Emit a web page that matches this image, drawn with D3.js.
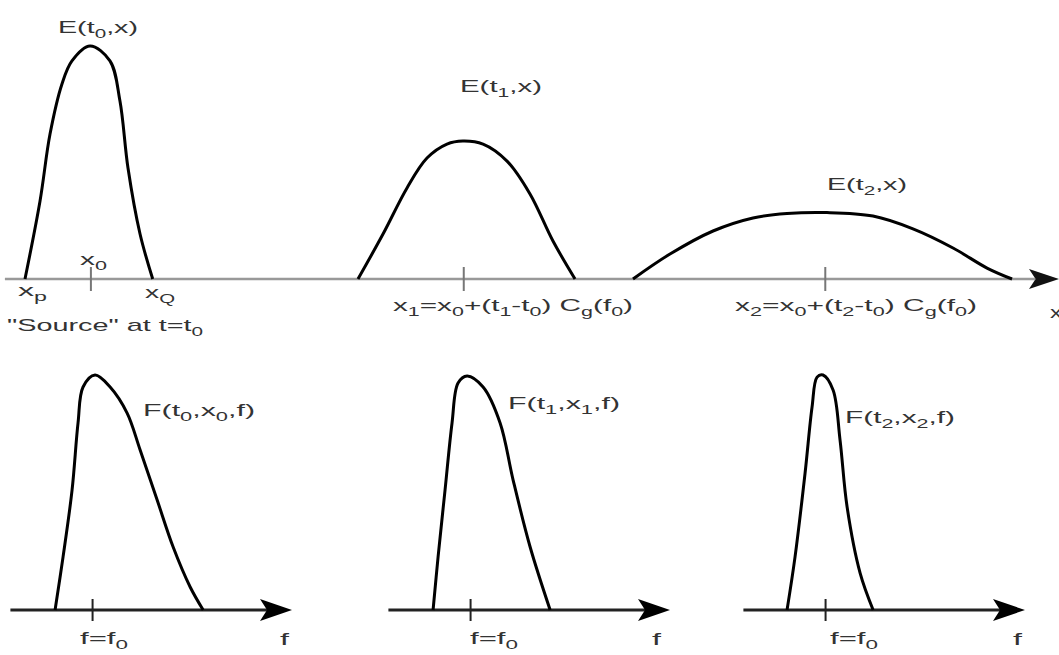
<!DOCTYPE html>
<html>
<head>
<meta charset="utf-8">
<script src="https://cdn.jsdelivr.net/npm/d3@7"></script>
<style>
  html, body { margin: 0; padding: 0; background: #fff; }
  svg { display: block; }
  text { font-family: "Liberation Sans", Arial, sans-serif; fill: #333; }
</style>
</head>
<body>
<svg id="chart" width="1059" height="655"></svg>
<script>
// ---------- DATA ----------
// Top row: spatial pulses E(t, x); x in arbitrary units, amplitude normalised
const pulseE0 = [[0.165,0],[0.311,0.335],[0.408,0.622],[0.524,0.837],[0.621,0.936],[0.796,1.0],[0.990,0.936],[1.087,0.764],[1.165,0.476],[1.282,0.193],[1.405,0]];
const pulseE1 = [[3.398,0],[3.641,0.193],[3.874,0.391],[4.068,0.519],[4.262,0.579],[4.417,0.592],[4.612,0.579],[4.845,0.506],[5.068,0.365],[5.291,0.163],[5.505,0]];
const pulseE2 = [[6.068,0],[6.427,0.107],[6.845,0.206],[7.233,0.262],[7.563,0.281],[7.951,0.285],[8.398,0.270],[8.786,0.215],[9.175,0.133],[9.505,0.047],[9.748,0]];
const topTicks = [0.80, 4.42, 7.93];

// Bottom row: spectra F(t, x, f); f in units of f0
const spectrumF0 = [[0.565,0],[0.659,0.226],[0.765,0.511],[0.835,0.796],[0.894,0.949],[1.035,1.0],[1.212,0.949],[1.412,0.838],[1.565,0.681],[1.765,0.468],[1.953,0.268],[2.153,0.098],[2.306,0]];
const spectrumF1 = [[0.565,0],[0.624,0.226],[0.706,0.511],[0.788,0.796],[0.859,0.966],[0.965,0.996],[1.153,0.949],[1.353,0.796],[1.506,0.553],[1.706,0.268],[1.941,0]];
const spectrumF2 = [[0.553,0],[0.647,0.226],[0.765,0.583],[0.847,0.864],[0.906,0.991],[0.976,1.0],[1.094,0.936],[1.176,0.723],[1.259,0.438],[1.412,0.157],[1.565,0]];
const bottomTick = 1.0;

// Labels ("_" marks a one-character subscript)
const topLabels = ["E(t_0,x)", "x_0", "x_p", "x_Q", "\"Source\" at t=t_0", "E(t_1,x)", "x_1=x_0+(t_1-t_0) C_g(f_0)", "E(t_2,x)", "x_2=x_0+(t_2-t_0) C_g(f_0)", "x"];
const bottomLabels = ["F(t_0,x_0,f)", "F(t_1,x_1,f)", "F(t_2,x_2,f)"];
const freqTickLabel = "f=f_0";
const freqAxisLabel = "f";

// ---------- LAYOUT ----------
const svg = d3.select("#chart");

const xTop = d3.scaleLinear().domain([0, 10]).range([8, 1038]);
const yTop = d3.scaleLinear().domain([0, 1]).range([279, 46]);

const panelLefts = [7, 385, 740];
const yBot = d3.scaleLinear().domain([0, 1]).range([610, 375]);
const fScales = panelLefts.map(l => d3.scaleLinear().domain([0, 3.35]).range([l, l + 285]));

// arrowhead helper (dart shape) pointing right, tip at (tx, ty)
function arrowHead(tx, ty, len, half, fill) {
  const p = d3.path();
  p.moveTo(tx, ty);
  p.lineTo(tx - len, ty - half);
  p.lineTo(tx - len * 0.78, ty);
  p.lineTo(tx - len, ty + half);
  p.closePath();
  svg.append("path").attr("d", p.toString()).attr("fill", fill);
}

// text with subscripts
function label(str, x, y, width, size) {
  size = size || 17;
  const t = svg.append("text").attr("x", x).attr("y", y).attr("font-size", size);
  const parts = [];
  let i = 0, buf = "";
  while (i < str.length) {
    if (str[i] === "_" && i + 1 < str.length) {
      if (buf) { parts.push({ s: buf, sub: false }); buf = ""; }
      parts.push({ s: str[i + 1], sub: true });
      i += 2;
    } else { buf += str[i]; i++; }
  }
  if (buf) parts.push({ s: buf, sub: false });
  let level = 0;
  parts.forEach(p => {
    const target = p.sub ? 5 : 0;
    const ts = t.append("tspan").attr("font-size", p.sub ? size * 0.72 : size).text(p.s);
    if (target !== level) { ts.attr("dy", target - level); level = target; }
  });
  if (width) t.attr("textLength", width).attr("lengthAdjust", "spacingAndGlyphs");
  return t;
}

// ---------- TOP ROW ----------
svg.append("line")
  .attr("x1", xTop(-0.03)).attr("x2", 1035)
  .attr("y1", yTop(0)).attr("y2", yTop(0))
  .attr("stroke", "#999").attr("stroke-width", 2.5);
arrowHead(1059, yTop(0), 30, 10, "#111");

const tickAxis = d3.axisBottom(xTop).tickValues(topTicks).tickFormat("").tickSizeInner(24).tickSizeOuter(0);
const gT = svg.append("g").attr("transform", `translate(0,${yTop(0) - 12})`).call(tickAxis);
gT.select(".domain").remove();
gT.selectAll(".tick line").attr("stroke", "#777").attr("stroke-width", 2);

const lineTop = d3.line().x(d => xTop(d[0])).y(d => yTop(d[1])).curve(d3.curveCatmullRom.alpha(0.5));
[pulseE0, pulseE1, pulseE2].forEach(p => {
  svg.append("path").attr("d", lineTop(p)).attr("fill", "none")
    .attr("stroke", "#000").attr("stroke-width", 3).attr("stroke-linejoin", "round");
});

label(topLabels[0], 58, 33, 80);
label(topLabels[1], 80, 265, 27);
label(topLabels[2], 18, 296, 29);
label(topLabels[3], 145, 298, 30);
label(topLabels[4], 7, 331, 196);
label(topLabels[5], 460, 92, 82);
label(topLabels[6], 393, 311, 240);
label(topLabels[7], 827, 190, 80);
label(topLabels[8], 735, 311, 242);
label(topLabels[9], 1050, 318, 12);

// ---------- BOTTOM ROW ----------
const spectra = [spectrumF0, spectrumF1, spectrumF2];
const labelPos = [[143, 416, 112], [508, 409, 112], [845, 423, 110]];
const tickLabelX = [80, 470, 830];
const axisLabelX = [280, 652, 1013];

spectra.forEach((s, i) => {
  const fx = fScales[i];
  svg.append("line")
    .attr("x1", fx(0.04)).attr("x2", fx(3.35) - 10)
    .attr("y1", yBot(0)).attr("y2", yBot(0))
    .attr("stroke", "#222").attr("stroke-width", 3);
  arrowHead(fx(3.35), yBot(0), 32, 11, "#000");

  const ax = d3.axisBottom(fx).tickValues([bottomTick]).tickFormat("").tickSizeInner(22).tickSizeOuter(0);
  const g = svg.append("g").attr("transform", `translate(0,${yBot(0) - 11})`).call(ax);
  g.select(".domain").remove();
  g.selectAll(".tick line").attr("stroke", "#222").attr("stroke-width", 2);

  const ln = d3.line().x(d => fx(d[0])).y(d => yBot(d[1])).curve(d3.curveCatmullRom.alpha(0.5));
  svg.append("path").attr("d", ln(s)).attr("fill", "none")
    .attr("stroke", "#000").attr("stroke-width", 3).attr("stroke-linejoin", "round");

  label(bottomLabels[i], labelPos[i][0], labelPos[i][1], labelPos[i][2]);
  label(freqTickLabel, tickLabelX[i], 644, 48);
  label(freqAxisLabel, axisLabelX[i], 645, 9);
});
</script>
</body>
</html>
